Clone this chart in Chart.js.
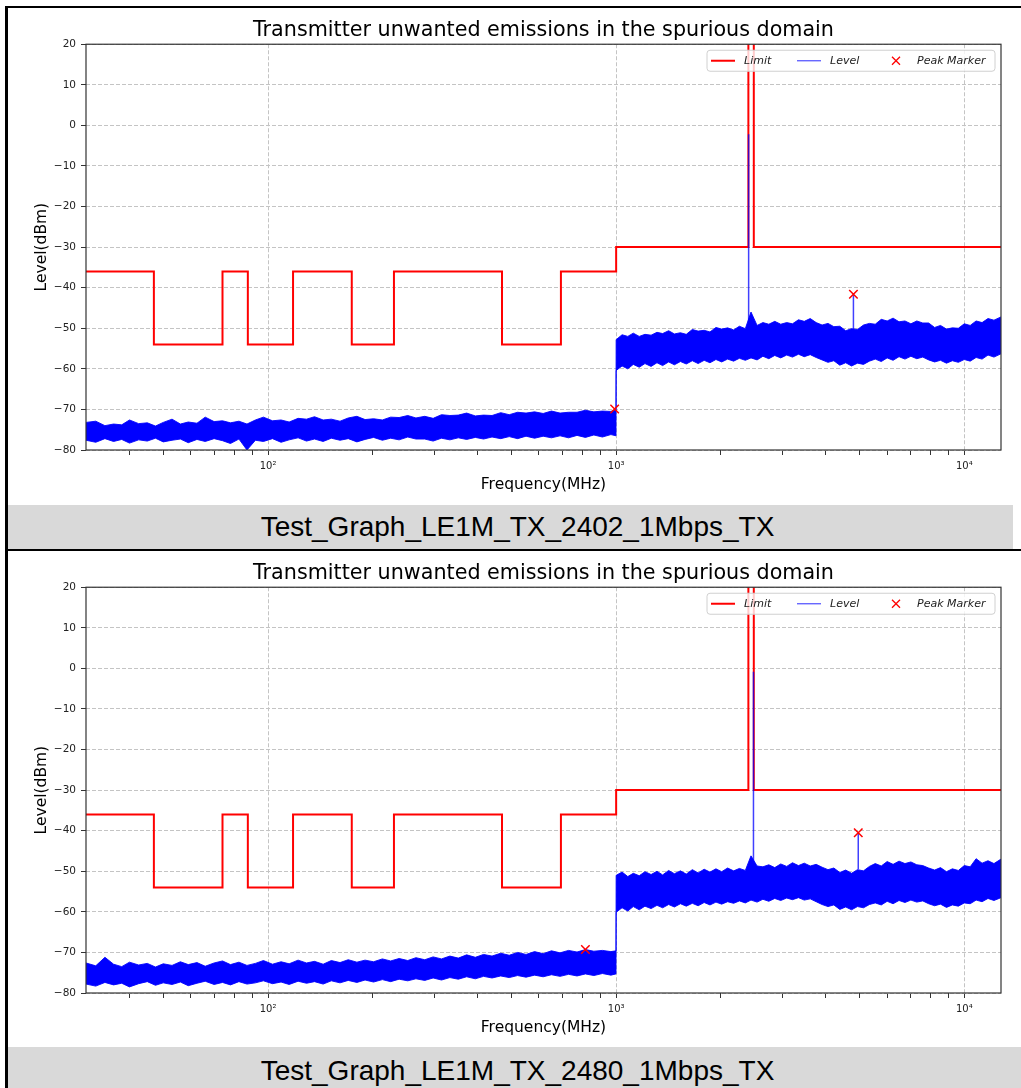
<!DOCTYPE html>
<html>
<head>
<meta charset="utf-8">
<script src="https://cdn.jsdelivr.net/npm/chart.js@4.4.1/dist/chart.umd.min.js"></script>
<style>
body { margin:0; width:1021px; height:1088px; background:#fff; position:relative; overflow:hidden; font-family:"Liberation Sans", Arial, sans-serif; }
.box { position:absolute; left:8px; width:1013px; height:497px; }
#box1 { top:8px; }
#box2 { top:551px; }
.cap { position:absolute; background:#d9d9d9; color:#000; font-size:28px; text-align:center; white-space:nowrap; box-sizing:border-box; }
#cap1 { left:8px; top:505px; width:1005px; height:44px; line-height:44px; padding-left:14px; }
#cap2 { left:8px; top:1047px; width:1013px; height:41px; line-height:41px; padding-left:6px; padding-top:3px; }
.rule { position:absolute; background:#000; }
</style>
</head>
<body>
<div class="box" id="box1"><canvas id="chart1"></canvas></div>
<div class="cap" id="cap1">Test_Graph_LE1M_TX_2402_1Mbps_TX</div>
<div class="box" id="box2"><canvas id="chart2"></canvas></div>
<div class="cap" id="cap2">Test_Graph_LE1M_TX_2480_1Mbps_TX</div>
<div class="rule" style="left:5px;top:6px;width:3px;height:1082px"></div>
<div class="rule" style="left:5px;top:6px;width:1016px;height:2px"></div>
<div class="rule" style="left:5px;top:549px;width:1016px;height:2px"></div>
<script>
// limit mask, same for both plots (MHz / dBm)
const limitFreq = [30, 47, 74, 87.5, 118, 174, 230, 470, 694, 1000, 2398, 2485.5, 12750];
const limitLevel = [-36, -54, -36, -54, -36, -54, -36, -54, -36, -30, 40, -30, -30];

// x ticks
const majorTicks = [100, 1000, 10000];
const majorLabels = ['10\u00b2', '10\u00b3', '10\u2074'];
const minorTicks = [40, 50, 60, 70, 80, 90, 200, 300, 400, 500, 600, 700, 800, 900,
  2000, 3000, 4000, 5000, 6000, 7000, 8000, 9000];

// sweep frequencies (MHz), below and above 1 GHz
const lowFreq = [30, 32, 34, 36, 38, 40, 42.5, 45, 47.5, 50, 53, 56, 59, 62.5, 66, 70,
  74, 78, 82.5, 87, 92, 97, 103, 109, 115, 122, 129, 136, 144, 152, 161, 170, 180, 190,
  201, 213, 225, 238, 252, 266, 282, 298, 315, 333, 352, 372, 394, 416, 440, 466, 493,
  521, 551, 583, 617, 652, 690, 730, 772, 816, 863, 913, 966, 999];
const highFreq = [1000, 1040, 1080, 1120, 1165, 1210, 1260, 1310, 1360, 1415, 1470, 1530,
  1590, 1655, 1720, 1790, 1860, 1935, 2010, 2090, 2175, 2260, 2350, 2440, 2540, 2640,
  2745, 2855, 2970, 3090, 3210, 3340, 3470, 3610, 3755, 3905, 4060, 4220, 4390, 4565,
  4745, 4935, 5135, 5340, 5550, 5775, 6005, 6245, 6495, 6755, 7025, 7305, 7600, 7900,
  8220, 8545, 8890, 9245, 9615, 10000, 10400, 10815, 11250, 11700, 12170, 12750];

// --- 2402 MHz plot: top / bottom of the level trace
const lowHi1 = [-73.2, -72.9, -74.0, -73.6, -73.8, -72.6, -73.5, -73.3, -74.1, -73.2,
  -72.4, -73.6, -73.1, -73.4, -71.9, -73.0, -72.8, -73.3, -72.9, -73.6,
  -72.6, -71.9, -72.8, -72.6, -73.1, -72.2, -72.4, -71.8, -72.6, -72.4,
  -72.9, -72.1, -71.7, -72.5, -72.3, -72.6, -71.9, -72.0, -71.5, -72.1,
  -71.7, -72.2, -71.3, -71.5, -71.4, -70.9, -71.6, -71.4, -71.5, -70.8,
  -71.3, -70.7, -70.9, -70.6, -71.0, -70.4, -70.9, -70.7, -70.7, -70.2,
  -70.6, -70.4, -70.5, -70.0];
const lowLo1 = [-77.6, -78.1, -77.2, -77.9, -77.4, -78.3, -77.5, -77.8, -77.1, -78.0,
  -77.6, -77.3, -78.2, -77.4, -77.9, -77.2, -77.7, -78.4, -77.3, -80.0,
  -77.6, -77.9, -77.2, -78.1, -77.5, -77.0, -77.8, -77.3, -77.9, -77.1,
  -77.6, -77.2, -78.0, -77.4, -76.9, -77.6, -77.1, -77.5, -76.8, -77.3,
  -77.3, -77.8, -77.1, -77.5, -77.0, -77.4, -76.9, -77.3, -76.8, -77.2,
  -76.7, -77.2, -76.6, -77.1, -76.6, -77.0, -76.5, -77.0, -76.4, -76.9,
  -76.3, -76.8, -76.2, -76.5];
const highHi1 = [-52.8, -51.6, -52.0, -51.2, -52.0, -51.5, -51.7, -51.0, -51.3, -50.6,
  -51.4, -51.1, -51.5, -50.3, -50.7, -50.5, -50.9, -49.8, -50.2, -49.9,
  -50.4, -49.5, -50.1, -46.0, -49.3, -48.6, -49.0, -48.3, -49.0, -48.6,
  -48.9, -47.9, -48.3, -47.6, -48.6, -49.2, -48.8, -49.6, -49.5, -50.6,
  -50.1, -50.3, -49.2, -48.8, -49.0, -47.8, -48.2, -47.5, -48.4, -48.2,
  -48.9, -48.2, -48.7, -48.7, -49.8, -49.3, -50.2, -49.9, -50.0, -48.9,
  -49.3, -48.2, -48.6, -47.6, -48.0, -47.2];
const highLo1 = [-60.4, -59.3, -60.0, -58.9, -59.6, -58.7, -59.4, -58.5, -59.2, -58.3,
  -59.0, -58.2, -58.8, -58.0, -58.7, -57.9, -58.5, -57.7, -58.3, -57.6,
  -58.1, -57.4, -57.9, -57.3, -57.8, -56.9, -57.5, -56.7, -57.3, -56.6,
  -57.1, -56.4, -57.0, -56.5, -57.2, -57.8, -58.4, -58.0, -59.1, -58.5,
  -59.3, -58.6, -58.9, -58.1, -57.6, -58.2, -57.3, -57.9, -57.0, -57.6,
  -56.9, -57.5, -57.1, -57.8, -58.3, -57.9, -58.6, -58.0, -58.4, -57.7,
  -58.1, -57.2, -57.6, -56.6, -57.1, -56.3];
const spikeFreq1 = [2402, 4804];
const spikeBase1 = [-50.0, -50.5];
const spikeTop1 = [-2.2, -41.6];
const markFreq1 = [990, 4804];
const markLevel1 = [-69.9, -41.6];

// --- 2480 MHz plot
const lowHi2 = [-72.6, -73.3, -71.2, -72.9, -73.5, -72.4, -73.1, -72.7, -73.6, -72.8,
  -73.2, -72.3, -73.0, -72.5, -73.4, -72.6, -72.1, -73.0, -72.4, -73.2,
  -72.7, -72.0, -72.9, -72.3, -72.8, -71.9, -72.6, -72.2, -72.9, -72.0,
  -72.5, -71.8, -72.4, -71.9, -72.3, -71.6, -72.1, -71.5, -72.0, -71.3,
  -71.8, -71.1, -71.6, -70.9, -71.4, -70.6, -71.2, -70.5, -70.9, -70.2,
  -70.7, -70.0, -70.5, -69.8, -70.3, -69.6, -70.1, -69.5, -69.9, -69.3,
  -69.7, -69.5, -69.8, -69.6];
const lowLo2 = [-77.8, -78.3, -77.4, -78.0, -77.6, -78.5, -77.7, -77.2, -78.1, -77.5,
  -77.9, -77.3, -78.2, -77.6, -77.1, -77.9, -77.4, -78.0, -77.2, -77.8,
  -77.5, -77.0, -77.7, -77.3, -77.9, -77.1, -77.6, -77.2, -77.8, -77.0,
  -77.5, -76.9, -77.4, -76.8, -77.3, -76.7, -77.2, -76.6, -77.0, -76.5,
  -76.9, -76.3, -76.8, -76.2, -76.6, -76.0, -76.5, -75.9, -76.3, -75.8,
  -76.2, -75.7, -76.1, -75.6, -76.0, -75.5, -75.9, -75.4, -75.8, -75.3,
  -75.7, -75.2, -75.6, -75.3];
const highHi2 = [-51.0, -50.2, -51.3, -50.5, -51.1, -50.1, -50.8, -50.0, -50.9, -49.8,
  -50.6, -49.9, -50.7, -49.6, -50.4, -49.5, -50.2, -49.4, -50.1, -49.2,
  -49.9, -49.3, -49.8, -46.2, -48.7, -48.9, -48.4, -49.1, -48.2, -48.8,
  -47.9, -48.6, -48.0, -48.7, -48.3, -49.0, -49.6, -49.2, -50.3, -49.7,
  -50.5, -49.6, -49.9, -48.8, -48.1, -48.7, -47.6, -48.3, -47.5, -48.1,
  -47.7, -48.4, -48.6, -49.2, -49.7, -49.1, -50.1, -49.4, -49.8, -48.6,
  -48.9, -46.9, -48.0, -47.4, -48.1, -47.0];
const highLo2 = [-60.1, -59.0, -59.8, -58.7, -59.5, -58.6, -59.2, -58.4, -59.0, -58.2,
  -58.8, -58.0, -58.6, -57.9, -58.5, -57.7, -58.3, -57.6, -58.1, -57.5,
  -57.9, -57.3, -57.8, -57.1, -57.6, -56.9, -57.4, -56.7, -57.2, -56.6,
  -57.0, -56.5, -57.1, -56.8, -57.5, -58.2, -58.7, -58.3, -59.4, -58.8,
  -59.5, -58.7, -59.0, -58.2, -57.8, -58.3, -57.4, -58.0, -57.2, -57.7,
  -57.1, -57.6, -57.3, -58.0, -58.5, -58.1, -58.9, -58.3, -58.6, -57.8,
  -58.0, -57.1, -57.5, -56.7, -57.2, -56.5];
const spikeFreq2 = [2480, 4960];
const spikeBase2 = [-48.0, -49.5];
const spikeTop2 = [-0.8, -40.5];
const markFreq2 = [816, 4960];
const markLevel2 = [-69.3, -40.5];

const chartTitle = 'Transmitter unwanted emissions in the spurious domain';
const legendLabels = ['Limit', 'Level', 'Peak Marker'];

Chart.defaults.font.family = '"DejaVu Sans", sans-serif';

// matplotlib style frame on all four sides
const spines = {
  id: 'spines',
  afterDatasetsDraw(chart) {
    const {ctx, chartArea: a} = chart;
    ctx.save();
    ctx.strokeStyle = '#333';
    ctx.lineWidth = 1.2;
    ctx.strokeRect(a.left, a.top, a.right - a.left, a.bottom - a.top);
    ctx.restore();
  }
};

// legend box inside the axes, upper right
const mplLegend = {
  id: 'mplLegend',
  afterDraw(chart) {
    const {ctx, chartArea: a} = chart;
    const w = 288, h = 21;
    const x0 = a.right - 6 - w, y0 = a.top + 6, ym = y0 + h / 2;
    ctx.save();
    ctx.beginPath();
    const r = 3;
    ctx.moveTo(x0 + r, y0);
    ctx.lineTo(x0 + w - r, y0); ctx.quadraticCurveTo(x0 + w, y0, x0 + w, y0 + r);
    ctx.lineTo(x0 + w, y0 + h - r); ctx.quadraticCurveTo(x0 + w, y0 + h, x0 + w - r, y0 + h);
    ctx.lineTo(x0 + r, y0 + h); ctx.quadraticCurveTo(x0, y0 + h, x0, y0 + h - r);
    ctx.lineTo(x0, y0 + r); ctx.quadraticCurveTo(x0, y0, x0 + r, y0);
    ctx.fillStyle = 'rgba(255,255,255,0.8)';
    ctx.fill();
    ctx.strokeStyle = '#d0d0d0';
    ctx.lineWidth = 1;
    ctx.stroke();
    // Limit
    ctx.strokeStyle = '#ff0000'; ctx.lineWidth = 2;
    ctx.beginPath(); ctx.moveTo(x0 + 4, ym); ctx.lineTo(x0 + 28, ym); ctx.stroke();
    // Level
    ctx.strokeStyle = 'rgba(0,0,255,0.65)'; ctx.lineWidth = 1.3;
    ctx.beginPath(); ctx.moveTo(x0 + 90, ym); ctx.lineTo(x0 + 114, ym); ctx.stroke();
    // Peak Marker
    ctx.strokeStyle = '#ff0000'; ctx.lineWidth = 1.3;
    ctx.beginPath();
    ctx.moveTo(x0 + 185, ym - 4); ctx.lineTo(x0 + 193, ym + 4);
    ctx.moveTo(x0 + 193, ym - 4); ctx.lineTo(x0 + 185, ym + 4);
    ctx.stroke();
    ctx.fillStyle = '#222';
    ctx.font = 'italic 11px "DejaVu Sans"';
    ctx.textBaseline = 'middle';
    ctx.fillText(legendLabels[0], x0 + 37, ym);
    ctx.fillText(legendLabels[1], x0 + 123, ym);
    ctx.fillText(legendLabels[2], x0 + 210, ym);
    ctx.restore();
  }
};

const toPts = (xs, ys) => xs.map((x, i) => ({x: x, y: ys[i]}));

function makeChart(id, lowHi, lowLo, highHi, highLo, spikeFreq, spikeBase, spikeTop, markFreq, markLevel) {
  const freq = lowFreq.concat(highFreq);
  const hi = lowHi.concat(highHi);
  const lo = lowLo.concat(highLo);
  const spikes = [];
  spikeFreq.forEach((f, i) => {
    spikes.push({x: f, y: spikeBase[i]}, {x: f, y: spikeTop[i]}, {x: f, y: null});
  });
  return new Chart(document.getElementById(id), {
    type: 'line',
    data: {
      datasets: [
        {label: 'Peak Marker', data: toPts(markFreq, markLevel), showLine: false,
          pointStyle: 'crossRot', pointRadius: 6, borderColor: '#ff0000', borderWidth: 1.5, order: 0},
        {label: 'Level', data: spikes, borderColor: 'rgba(0,0,255,0.75)', borderWidth: 1.5,
          pointRadius: 0, spanGaps: false, order: 1},
        {label: 'Level', data: toPts(freq, hi), borderColor: 'rgba(0,0,255,0.9)',
          backgroundColor: '#0000ff', borderWidth: 1, pointRadius: 0, fill: '+1', order: 2},
        {label: 'Level', data: toPts(freq, lo), borderColor: 'rgba(0,0,255,0.9)',
          borderWidth: 1, pointRadius: 0, fill: false, order: 3},
        {label: 'Limit', data: toPts(limitFreq, limitLevel), borderColor: '#ff0000',
          borderWidth: 2, pointRadius: 0, stepped: 'before', fill: false, order: 4}
      ]
    },
    options: {
      responsive: true,
      maintainAspectRatio: false,
      animation: false,
      events: [],
      layout: {padding: {left: 0, right: 20, top: 0, bottom: 0}},
      plugins: {
        legend: {display: false},
        tooltip: {enabled: false},
        title: {display: true, text: chartTitle, fullSize: false, color: '#000',
          font: {size: 20.7, weight: 'normal'}, padding: {top: 9.9, bottom: 1.5}}
      },
      scales: {
        x: {
          type: 'logarithmic', min: 30, max: 12750,
          afterBuildTicks: s => {
            s.ticks = minorTicks.concat(majorTicks).sort((a, b) => a - b).map(v => ({value: v}));
          },
          afterFit: s => { s.height = 55; },
          ticks: {autoSkip: false, maxRotation: 0, padding: 5, color: '#222', font: {size: 10},
            callback: v => { const k = majorTicks.indexOf(v); return k >= 0 ? majorLabels[k] : ''; }},
          grid: {color: c => (c.tick && majorTicks.includes(c.tick.value)) ? '#c4c4c4' : 'rgba(0,0,0,0)',
            tickLength: 5, tickColor: '#333', tickWidth: 1, tickBorderDash: []},
          border: {display: false, dash: [4, 2]},
          title: {display: true, text: 'Frequency(MHz)', color: '#000', font: {size: 15.5},
            padding: {top: 0, bottom: 10.7}}
        },
        y: {
          min: -80, max: 20,
          afterFit: s => { s.width = 78; },
          ticks: {stepSize: 10, padding: 5, color: '#222', font: {size: 10.5},
            callback: v => v < 0 ? '\u2212' + (-v) : String(v)},
          grid: {color: '#c4c4c4', tickLength: 5, tickColor: '#333', tickWidth: 1, tickBorderDash: []},
          border: {display: false, dash: [4, 2]},
          title: {display: true, text: 'Level(dBm)', color: '#000', font: {size: 15.5},
            padding: {top: 24.7, bottom: 0}}
        }
      }
    },
    plugins: [spines, mplLegend]
  });
}

makeChart('chart1', lowHi1, lowLo1, highHi1, highLo1, spikeFreq1, spikeBase1, spikeTop1, markFreq1, markLevel1);
makeChart('chart2', lowHi2, lowLo2, highHi2, highLo2, spikeFreq2, spikeBase2, spikeTop2, markFreq2, markLevel2);
</script>
</body>
</html>
